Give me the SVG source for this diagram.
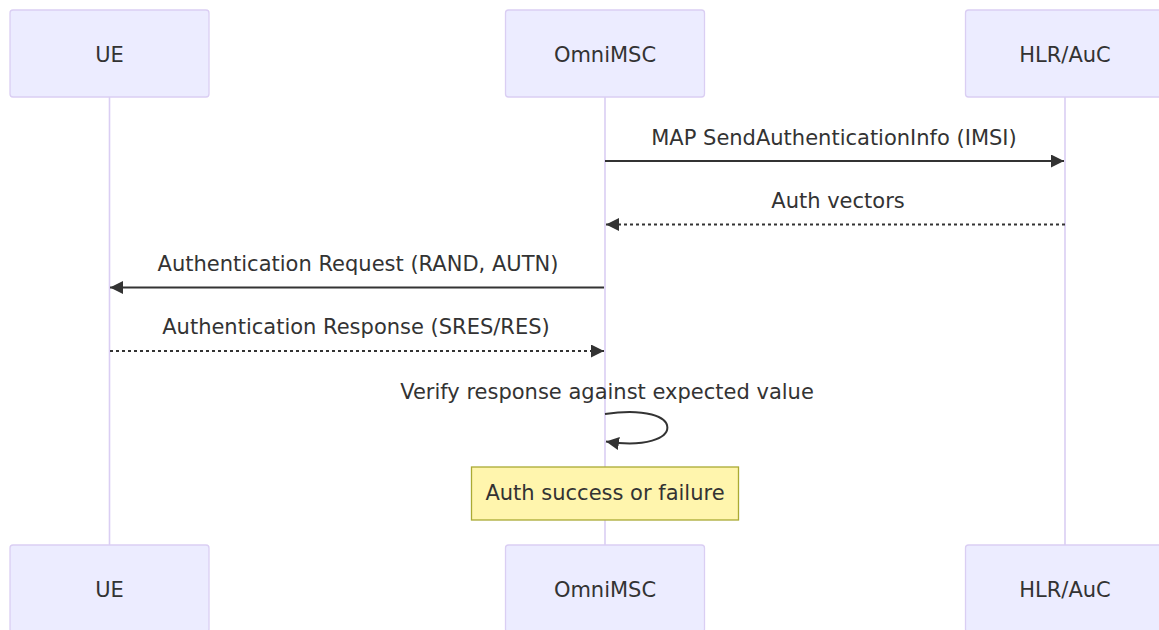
<svg xmlns="http://www.w3.org/2000/svg" width="1159" height="630" viewBox="0 0 1159 630">
<style>
.actor{fill:#ececff;stroke:#dacef3;stroke-width:1.3}
.actor-text{font-family:"DejaVu Sans",Verdana,sans-serif;font-size:21px;fill:#333;text-anchor:middle}
.lifeline{stroke:#dacef3;stroke-width:1.6;fill:none}
.msg{stroke:#333;stroke-width:2;fill:none}
.dotted{stroke-dasharray:3,3}
.msg-text{font-family:"DejaVu Sans",Verdana,sans-serif;font-size:21px;fill:#333;text-anchor:middle}
.note{fill:#fff5ad;stroke:#aaaa33;stroke-width:1.3}
</style>
<defs>
<marker id="arrow" markerUnits="userSpaceOnUse" markerWidth="14" markerHeight="14" refX="13" refY="6.5" orient="auto">
<path d="M0,0 L13,6.5 L0,13 z" fill="#333"/>
</marker>
</defs>
<rect width="1159" height="630" fill="#ffffff"/>
<g id="lifelines">
<line class="lifeline" x1="109.5" y1="97" x2="109.5" y2="545"/>
<line class="lifeline" x1="605" y1="97" x2="605" y2="545"/>
<line class="lifeline" x1="1065" y1="97" x2="1065" y2="545"/>
</g>
<g id="actor-UE-top"><rect class="actor" x="10" y="10" width="199" height="87" rx="3"/><text class="actor-text" x="109.5" y="62">UE</text></g>
<g id="actor-OmniMSC-top"><rect class="actor" x="505.5" y="10" width="199" height="87" rx="3"/><text class="actor-text" x="605" y="62">OmniMSC</text></g>
<g id="actor-HLR-top"><rect class="actor" x="965.5" y="10" width="199" height="87" rx="3"/><text class="actor-text" x="1065" y="62">HLR/AuC</text></g>
<g id="actor-UE-bottom"><rect class="actor" x="10" y="545" width="199" height="87" rx="3"/><text class="actor-text" x="109.5" y="597">UE</text></g>
<g id="actor-OmniMSC-bottom"><rect class="actor" x="505.5" y="545" width="199" height="87" rx="3"/><text class="actor-text" x="605" y="597">OmniMSC</text></g>
<g id="actor-HLR-bottom"><rect class="actor" x="965.5" y="545" width="199" height="87" rx="3"/><text class="actor-text" x="1065" y="597">HLR/AuC</text></g>
<g id="connectors">
<text class="msg-text" x="834" y="145">MAP SendAuthenticationInfo (IMSI)</text>
<line class="msg" x1="605" y1="161" x2="1064" y2="161" marker-end="url(#arrow)"/>
<text class="msg-text" x="838" y="208">Auth vectors</text>
<line class="msg dotted" x1="1065" y1="224.5" x2="606" y2="224.5" marker-end="url(#arrow)"/>
<text class="msg-text" x="358" y="271">Authentication Request (RAND, AUTN)</text>
<line class="msg" x1="604" y1="287.5" x2="110" y2="287.5" marker-end="url(#arrow)"/>
<text class="msg-text" x="356" y="334">Authentication Response (SRES/RES)</text>
<line class="msg dotted" x1="110" y1="351" x2="604" y2="351" marker-end="url(#arrow)"/>
<text class="msg-text" x="607" y="399">Verify response against expected value</text>
<path class="msg" d="M605,414 C688,401 688,454 606,441.5" marker-end="url(#arrow)"/>
</g>
<g id="note">
<rect class="note" x="471.5" y="467" width="267" height="53"/>
<text class="msg-text" x="605" y="500">Auth success or failure</text>
</g>
</svg>
